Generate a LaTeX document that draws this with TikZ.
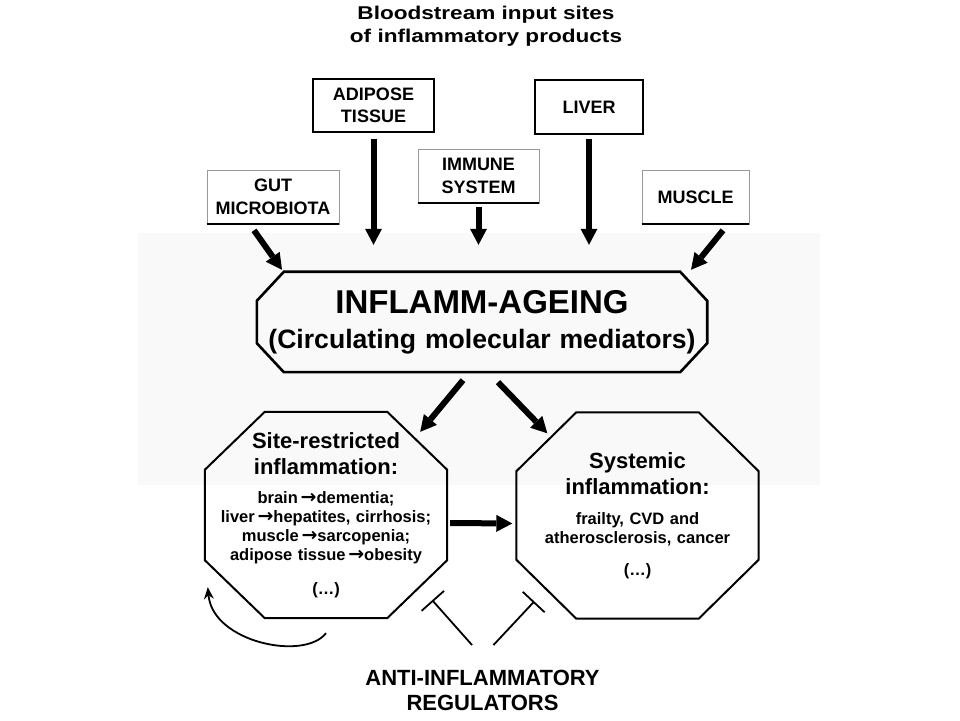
\documentclass[tikz,border=0pt]{standalone}
\usepackage{fontspec}
\setmainfont{Liberation Sans}
\newfontfamily\arrowfont{DejaVu Sans}
\usepackage{graphicx}
\usetikzlibrary{arrows.meta}
\definecolor{bandgray}{rgb}{0.975,0.975,0.975}
\definecolor{framegray}{rgb}{0.6,0.6,0.6}
\newcommand\octframe[4][]{\draw[octline,#1] ([xshift=#3]#2.north west) -- ([xshift=-#3]#2.north east) -- ([yshift=-#4]#2.north east) -- ([yshift=#4]#2.south east) -- ([xshift=-#3]#2.south east) -- ([xshift=#3]#2.south west) -- ([yshift=#4]#2.south west) -- ([yshift=-#4]#2.north west) -- cycle;}
\newcommand\wide[1]{\scalebox{1.22}[1]{#1}}
\newcommand\tto{\,{\arrowfont\bfseries\scalebox{1.15}{→}}}

\begin{document}
\begin{tikzpicture}[x=1pt,y=1pt,line join=miter,
  srcbox/.style={draw,line width=1.6pt,inner sep=0pt,align=center,font=\fontsize{18}{22.5}\selectfont\bfseries},
  softbox/.style={srcbox,draw=framegray,line width=0.7pt},
  bottomline/.style={line width=2.2pt},
  feed/.style={-{Triangle[width=17pt,length=16pt,line width=0pt]},line width=6pt},
  octline/.style={line width=2pt},
  octtext/.style={inner sep=0pt,text width=236pt,minimum width=242pt,minimum height=206pt,align=center,font=\fontsize{16.5}{19}\selectfont\bfseries},
  headtext/.style={inner sep=0pt,align=center,font=\fontsize{22}{25}\selectfont\bfseries},
  selfloop/.style={-{Stealth[length=12pt,width=10pt,line width=0pt]},line width=1.8pt},
  inhibit/.style={-{Bar[width=30pt]},line width=1.8pt}]
\useasboundingbox (0,0) rectangle (960,720);
\fill[bandgray] (138,235) rectangle (820,487);

\node[headtext,font=\fontsize{18.5}{23}\selectfont\bfseries] (title) at (486,693.5) {\wide{Bloodstream input sites}\\\wide{of inflammatory products}};

\node[softbox,minimum width=132pt,minimum height=54pt] (gut) at (273,523) {GUT\\MICROBIOTA};
\node[srcbox,minimum width=121pt,minimum height=53pt] (adipose) at (373.5,614.5) {ADIPOSE\\TISSUE};
\node[softbox,minimum width=121pt,minimum height=54pt] (immune) at (478.5,544) {IMMUNE\\SYSTEM};
\node[srcbox,minimum width=108pt,minimum height=54pt] (liver) at (589,613) {LIVER};
\node[softbox,minimum width=107pt,minimum height=54pt] (muscle) at (695.5,523) {MUSCLE};
\foreach \n in {gut,immune,muscle}
  \draw[bottomline] (\n.south west) -- (\n.south east);

\node[inner sep=0pt,minimum width=450pt,minimum height=100pt,text width=440pt,align=center,font=\fontsize{26.6}{35}\selectfont\bfseries] (main) at (482,398)
  {{\fontsize{33}{35}\selectfont INFLAMM-AGEING\par}(Circulating molecular mediators)};
\octframe[line width=2.6pt]{main}{27pt}{29pt}

\node[octtext] (siteinf) at (326,205)
  {{\fontsize{22}{26}\selectfont Site-restricted\\inflammation:\par}
   \vspace{9.5pt}
   brain\tto dementia;\\liver\tto hepatites, cirrhosis;\\muscle\tto sarcopenia;\\adipose tissue\tto obesity\par
   \vspace{15pt}
   (…)};
\octframe{siteinf}{60pt}{58pt}
\node[octtext] (sysinf) at (637.5,204.5)
  {{\fontsize{22}{26}\selectfont Systemic\\inflammation:\par}
   \vspace{11.5pt}
   frailty, CVD and\\atherosclerosis, cancer\par
   \vspace{12.5pt}
   (…)};
\octframe{sysinf}{60pt}{59pt}

\node[headtext] (antiinf) at (482.5,29.5) {ANTI-INFLAMMATORY\\REGULATORS};

\draw[feed,shorten <=6pt,shorten >=27pt] (adipose.south) -- (adipose.south |- main.north);
\draw[feed,shorten <=4pt,shorten >=27pt] (immune.south) -- (immune.south |- main.north);
\draw[feed,shorten <=4pt,shorten >=27pt] (liver.south) -- (liver.south |- main.north);
\draw[feed] ([shift={(-19pt,-6pt)}]gut.south) -- ([shift={(-200pt,2pt)}]main.north);
\draw[feed] ([shift={(27.5pt,-6pt)}]muscle.south) -- ([shift={(209pt,2pt)}]main.north);
\draw[feed] ([shift={(-19pt,-8pt)}]main.south) -- ([shift={(-27pt,-20pt)}]siteinf.north east);
\draw[feed] ([shift={(16pt,-10pt)}]main.south) -- ([shift={(31pt,-21pt)}]sysinf.north west);
\draw[feed] ([shift={(3pt,-8pt)}]siteinf.east) -- ([shift={(-4pt,-8pt)}]sysinf.west);
\draw[selfloop] ([yshift=-15pt]siteinf.south) .. controls +(-22pt,-28pt) and +(5pt,-55pt) .. ([shift={(3pt,31pt)}]siteinf.south west);
\draw[inhibit] ([shift={(-10.5pt,25pt)}]antiinf.north) -- ([shift={(-15pt,18pt)}]siteinf.south east);
\draw[inhibit] ([shift={(11pt,25pt)}]antiinf.north) -- ([shift={(18pt,17.3pt)}]sysinf.south west);
\end{tikzpicture}
\end{document}
